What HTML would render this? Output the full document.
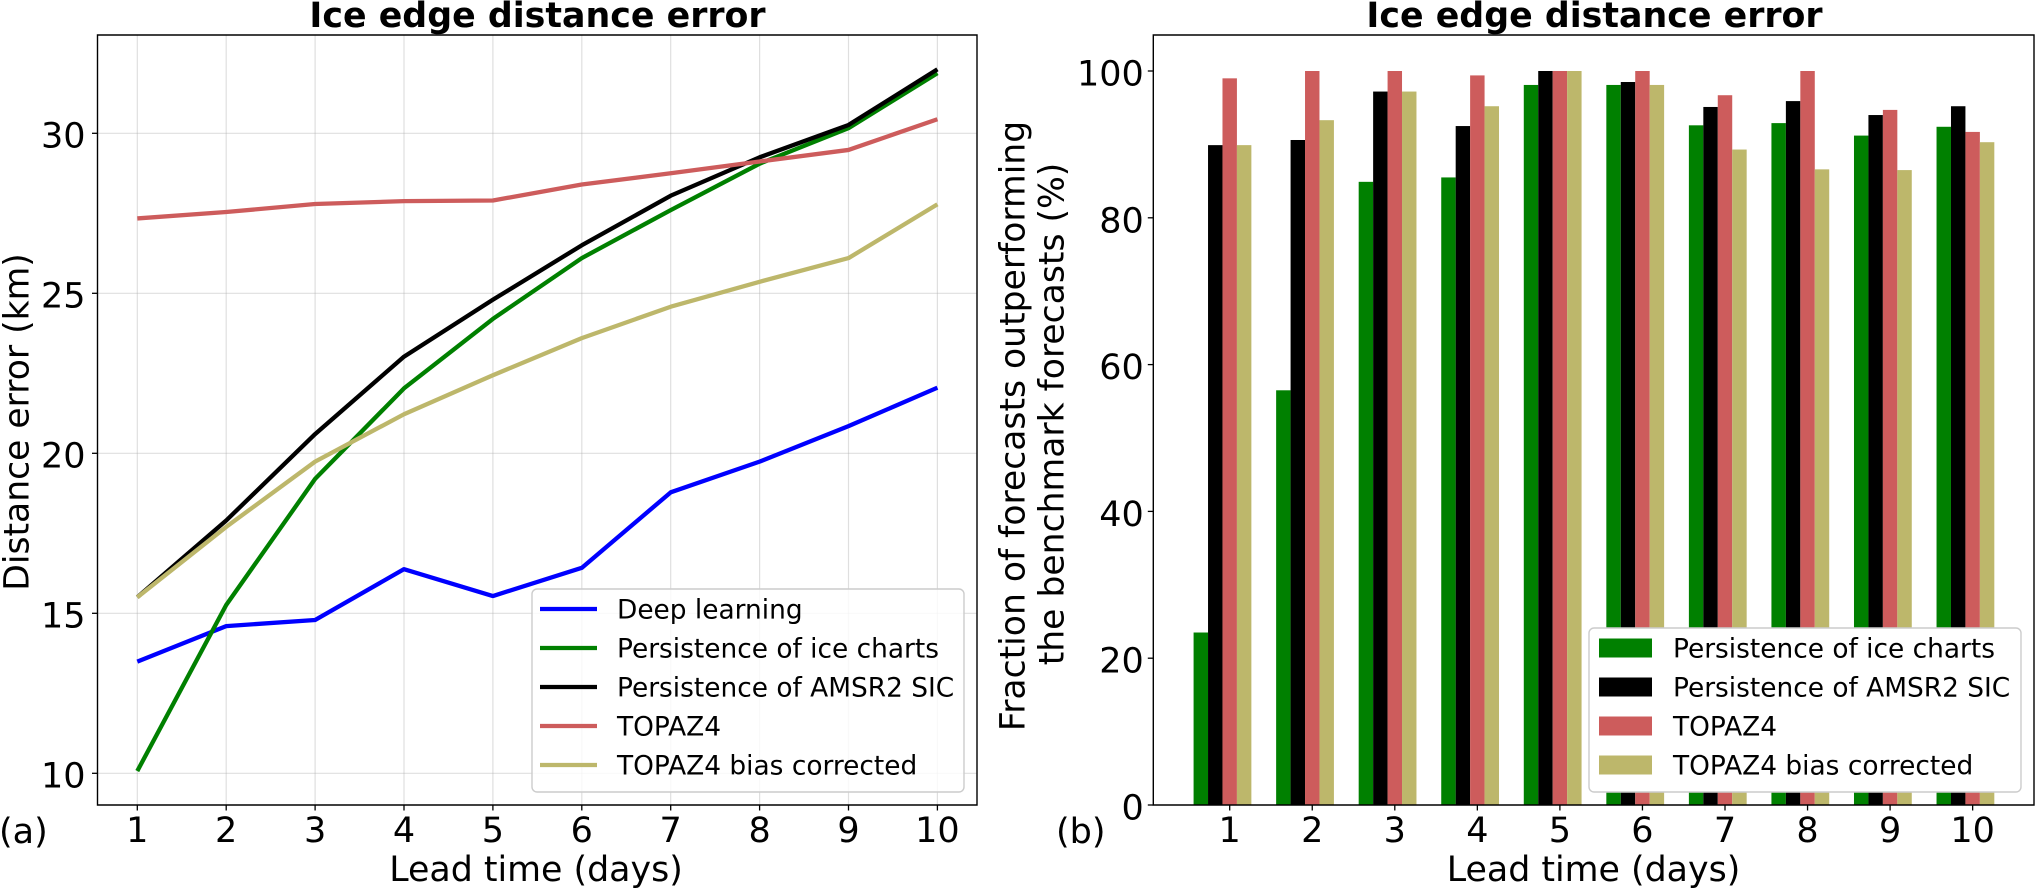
<!DOCTYPE html>
<html lang="en">
<head>
<meta charset="utf-8">
<title>Ice edge distance error</title>
<style>
html,body{margin:0;padding:0;background:#fff;width:2036px;height:889px;overflow:hidden}
svg{display:block}
text{font-family:"DejaVu Sans","Liberation Sans",sans-serif;fill:#000}
</style>
</head>
<body>
<svg id="fig" xmlns="http://www.w3.org/2000/svg" width="2036" height="889" viewBox="0 0 2036 889">
  <rect width="2036" height="889" fill="#fff"/>
  <g id="a-grid"></g>
  <g id="a-lines"></g>
  <g id="a-axes"></g>
  <g id="b-bars"></g>
  <g id="b-axes"></g>

  <text x="537.5" y="27" text-anchor="middle" font-size="34.8" font-weight="700">Ice edge distance error</text>
  <text x="1594.5" y="27" text-anchor="middle" font-size="34.8" font-weight="700">Ice edge distance error</text>
  <text x="536" y="881" text-anchor="middle" font-size="34.8">Lead time (days)</text>
  <text x="1593.5" y="881" text-anchor="middle" font-size="34.8">Lead time (days)</text>
  <text transform="translate(28.5,422) rotate(-90)" text-anchor="middle" font-size="34.6">Distance error (km)</text>
  <text transform="translate(1024.3,426) rotate(-90)" text-anchor="middle" font-size="34.6">Fraction of forecasts outperforming</text>
  <text transform="translate(1063.5,414) rotate(-90)" text-anchor="middle" font-size="34.6">the benchmark forecasts (%)</text>
  <text x="-1" y="843" font-size="35">(a)</text>
  <text x="1056" y="843" font-size="35">(b)</text>

  <g id="a-legend"></g>
  <g id="b-legend"></g>
</svg>
<script>
const leadDays = [1, 2, 3, 4, 5, 6, 7, 8, 9, 10];
const errorTicks = [10, 15, 20, 25, 30];
const fractionTicks = [0, 20, 40, 60, 80, 100];

const deepLearningError = [13.49, 14.6, 14.79, 16.38, 15.54, 16.42, 18.78, 19.74, 20.85, 22.05];
const iceChartError = [10.07, 15.26, 19.2, 22.03, 24.2, 26.1, 27.6, 29.05, 30.16, 31.88];
const amsrError = [15.5, 17.9, 20.6, 23.02, 24.8, 26.5, 28.05, 29.25, 30.26, 32.0];
const topazError = [27.34, 27.54, 27.79, 27.88, 27.9, 28.4, 28.75, 29.12, 29.48, 30.44];
const topazBcError = [15.5, 17.7, 19.74, 21.22, 22.44, 23.6, 24.58, 25.36, 26.1, 27.78];

const iceChartFraction = [23.5, 56.5, 84.9, 85.5, 98.1, 98.1, 92.6, 92.9, 91.2, 92.4];
const amsrFraction = [89.9, 90.6, 97.2, 92.5, 100, 98.5, 95.1, 95.9, 94, 95.2];
const topazFraction = [99, 100, 100, 99.4, 100, 100, 96.7, 100, 94.7, 91.7];
const topazBcFraction = [89.9, 93.3, 97.2, 95.2, 100, 98.1, 89.3, 86.6, 86.5, 90.3];

const lineSeries = [
  { label: 'Deep learning', key: 'deep-learning', color: '#0000ff', values: deepLearningError },
  { label: 'Persistence of ice charts', key: 'ice-charts', color: '#008000', values: iceChartError },
  { label: 'Persistence of AMSR2 SIC', key: 'amsr2', color: '#000000', values: amsrError },
  { label: 'TOPAZ4', key: 'topaz4', color: '#cd5c5c', values: topazError },
  { label: 'TOPAZ4 bias corrected', key: 'topaz4-bc', color: '#bdb76b', values: topazBcError }
];
const barSeries = [
  { label: 'Persistence of ice charts', key: 'ice-charts', color: '#008000', values: iceChartFraction },
  { label: 'Persistence of AMSR2 SIC', key: 'amsr2', color: '#000000', values: amsrFraction },
  { label: 'TOPAZ4', key: 'topaz4', color: '#cd5c5c', values: topazFraction },
  { label: 'TOPAZ4 bias corrected', key: 'topaz4-bc', color: '#bdb76b', values: topazBcFraction }
];

const NS = 'http://www.w3.org/2000/svg';
function make(parent, tag, attrs, txt) {
  const el = document.createElementNS(NS, tag);
  for (const k in attrs) el.setAttribute(k, attrs[k]);
  if (txt !== undefined) el.textContent = txt;
  parent.appendChild(el);
  return el;
}

const A = { left: 97.5, right: 977, top: 35, bottom: 805 };
const B = { left: 1153.3, right: 2034, top: 35, bottom: 805 };
const ax = d => 137.3 + (d - 1) * 88.9;
const ay = v => 773.3 - (v - 10) * 32;
const bx = d => 1229.7 + (d - 1) * 82.55;
const by = v => 805 - v * 7.34;
const barWidth = 0.175;
const barOffsets = [-0.35, -0.175, 0, 0.175];

const aGrid = document.getElementById('a-grid');
const aLines = document.getElementById('a-lines');
const aAxes = document.getElementById('a-axes');
const bBars = document.getElementById('b-bars');
const bAxes = document.getElementById('b-axes');

leadDays.forEach(d => {
  const g = make(aGrid, 'line', { x1: ax(d), x2: ax(d), y1: A.top, y2: A.bottom, stroke: '#b0b0b0', 'stroke-opacity': 0.4, 'stroke-width': 1.2 });
  
  
});
errorTicks.forEach(v => {
  const g = make(aGrid, 'line', { x1: A.left, x2: A.right, y1: ay(v), y2: ay(v), stroke: '#b0b0b0', 'stroke-opacity': 0.4, 'stroke-width': 1.2 });
  
  
});

lineSeries.forEach(s => {
  const pts = s.values.map((v, i) => ax(leadDays[i]).toFixed(2) + ',' + ay(v).toFixed(2)).join(' ');
  const l = make(aLines, 'polyline', { points: pts, fill: 'none', stroke: s.color, 'stroke-width': 4.3, 'stroke-linejoin': 'round', 'stroke-linecap': 'butt' });
  
  
});

barSeries.forEach((s, si) => {
  s.values.forEach((v, i) => {
    const cx = leadDays[i] + barOffsets[si];
    const x0 = bx(cx - barWidth / 2);
    const x1 = bx(cx + barWidth / 2);
    const r = make(bBars, 'rect', { x: x0, y: by(v), width: x1 - x0, height: by(0) - by(v), fill: s.color });
    
    
  });
});

function drawAxes(group, box, xf, yf, yTicks, prefix, labelGap, labelDrop) {
  const f = make(group, 'path', { d: `M${box.left} ${box.top}H${box.right}V${box.bottom}H${box.left}Z`, fill: 'none', stroke: '#000', 'stroke-width': 1.4 });
  
  
  leadDays.forEach(d => {
    const t = make(group, 'line', { x1: xf(d), x2: xf(d), y1: box.bottom, y2: box.bottom + 5.5, stroke: '#000', 'stroke-width': 1.3 });
    
    
    const lab = make(group, 'text', { x: xf(d), y: 842, 'text-anchor': 'middle', 'font-size': 35 }, String(d));
    
    
  });
  yTicks.forEach(v => {
    const t = make(group, 'line', { x1: box.left - 5.5, x2: box.left, y1: yf(v), y2: yf(v), stroke: '#000', 'stroke-width': 1.3 });
    
    
    const lab = make(group, 'text', { x: box.left - labelGap, y: yf(v) + labelDrop, 'text-anchor': 'end', 'font-size': 35 }, String(v));
    
    
  });
}
drawAxes(aAxes, A, ax, ay, errorTicks, 'panel-a', 12, 14);
drawAxes(bAxes, B, bx, by, fractionTicks, 'panel-b', 9.5, 14.5);

const legendA = document.getElementById('a-legend');
const frameA = make(legendA, 'rect', { x: 532, y: 589, width: 432, height: 203, rx: 5, fill: '#fff', 'fill-opacity': 0.8, stroke: '#ccc', 'stroke-width': 1.4 });


lineSeries.forEach((s, i) => {
  const yy = 609 + i * 39;
  const h = make(legendA, 'line', { x1: 540, x2: 597, y1: yy, y2: yy, stroke: s.color, 'stroke-width': 4.3 });
  
  
  const t = make(legendA, 'text', { x: 617, y: yy + 9.5, 'font-size': 26.4 }, s.label);
  
  
});

const legendB = document.getElementById('b-legend');
const frameB = make(legendB, 'rect', { x: 1589, y: 628, width: 432, height: 164, rx: 5, fill: '#fff', stroke: '#ccc', 'stroke-width': 1.4 });


barSeries.forEach((s, i) => {
  const yy = 648 + i * 39;
  const h = make(legendB, 'rect', { x: 1599, y: yy - 9.5, width: 53, height: 19, fill: s.color });
  
  
  const t = make(legendB, 'text', { x: 1673, y: yy + 9.5, 'font-size': 26.4 }, s.label);
  
  
});
</script>
</body>
</html>
